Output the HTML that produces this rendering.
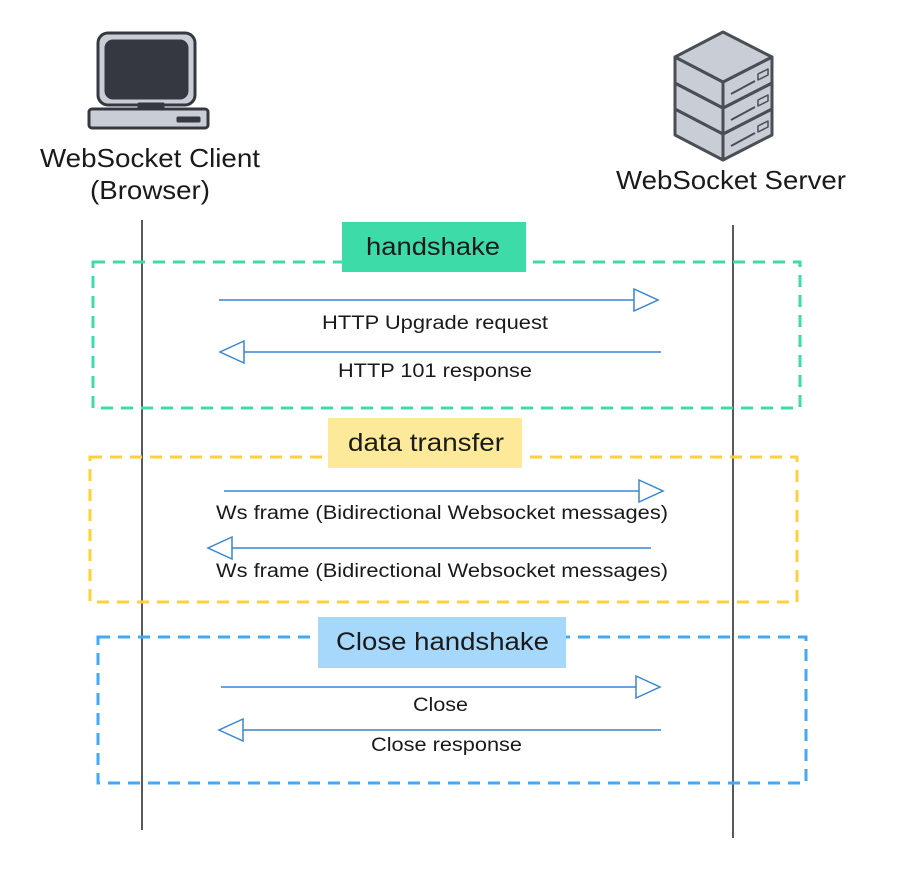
<!DOCTYPE html>
<html><head><meta charset="utf-8"><style>
html,body{margin:0;padding:0;background:#fff;}
svg{display:block;}
text{font-family:"Liberation Sans",Arial,sans-serif;fill:#1a1a1a;}
</style></head><body>
<svg width="902" height="877" viewBox="0 0 902 877" xmlns="http://www.w3.org/2000/svg">
<rect width="902" height="877" fill="#fff"/>
<!-- computer -->
<g stroke="#35393f" stroke-width="3" stroke-linejoin="round">
<rect x="98" y="33" width="97" height="72" rx="10" fill="#c9ced6"/>
<rect x="106" y="41" width="81" height="57" rx="7" fill="#35393f"/>
<rect x="139" y="104" width="24" height="7" fill="#35393f"/>
<rect x="89" y="109" width="119" height="19" rx="3" fill="#c9ced6"/>
<rect x="177" y="117" width="23" height="5" rx="1" fill="#35393f" stroke-width="1"/>
</g>
<!-- server -->
<g stroke="#4a4e55" stroke-width="3" stroke-linejoin="round" fill="#c9ced6">
<g transform="translate(0,52)">
<polygon points="675,57 723,82 723,108 675,83"/><polygon points="723,82 772,57 772,83 723,108"/>
<line x1="731" y1="94" x2="755" y2="81" stroke-width="2"/><polygon points="758,74 768,69 768,75 758,80" stroke-width="1.5"/>
</g>
<g transform="translate(0,26)">
<polygon points="675,57 723,82 723,108 675,83"/><polygon points="723,82 772,57 772,83 723,108"/>
<line x1="731" y1="94" x2="755" y2="81" stroke-width="2"/><polygon points="758,74 768,69 768,75 758,80" stroke-width="1.5"/>
<polygon points="675,57 723,32 772,57 723,82"/>
</g>
<polygon points="675,57 723,82 723,108 675,83"/><polygon points="723,82 772,57 772,83 723,108"/>
<line x1="731" y1="94" x2="755" y2="81" stroke-width="2"/><polygon points="758,74 768,69 768,75 758,80" stroke-width="1.5"/>
<polygon points="675,57 723,32 772,57 723,82"/>
</g>
<g font-size="26">
<text x="40" y="167" textLength="220" lengthAdjust="spacingAndGlyphs">WebSocket Client</text>
<text x="90" y="199" textLength="120" lengthAdjust="spacingAndGlyphs">(Browser)</text>
<text x="616" y="189" textLength="230" lengthAdjust="spacingAndGlyphs">WebSocket Server</text>
</g>
<!-- lifelines -->
<line x1="142" y1="220" x2="142" y2="830" stroke="#222" stroke-width="1.5"/>
<line x1="733" y1="225" x2="733" y2="838" stroke="#222" stroke-width="1.5"/>
<!-- boxes -->
<g fill="none" stroke-width="3" stroke-dasharray="12,8">
<rect x="93" y="262" width="707" height="146" stroke="#3ddba8"/>
<rect x="90" y="457" width="707" height="145" stroke="#fdd13d"/>
<rect x="98" y="637" width="708" height="146" stroke="#46a7f5"/>
</g>
<rect x="342" y="222" width="184" height="50" fill="#3ddba8"/>
<rect x="328" y="418" width="194" height="50" fill="#fce99a"/>
<rect x="318" y="617" width="248" height="51" fill="#a6d8fc"/>
<g font-size="25">
<text x="366" y="255" textLength="134" lengthAdjust="spacingAndGlyphs">handshake</text>
<text x="348" y="451" textLength="156" lengthAdjust="spacingAndGlyphs">data transfer</text>
<text x="336" y="650" textLength="213" lengthAdjust="spacingAndGlyphs">Close handshake</text>
</g>
<!-- arrows -->
<g stroke="#3a86cf" stroke-width="1.5" fill="#fff">
<line x1="219" y1="300" x2="634" y2="300"/><polygon points="634,289 658,300 634,311"/>
<line x1="661" y1="352" x2="244" y2="352"/><polygon points="244,341 220,352 244,363"/>
<line x1="224" y1="491" x2="639" y2="491"/><polygon points="639,480 663,491 639,502"/>
<line x1="651" y1="548" x2="232" y2="548"/><polygon points="232,537 208,548 232,559"/>
<line x1="221" y1="687" x2="636" y2="687"/><polygon points="636,676 660,687 636,698"/>
<line x1="661" y1="730" x2="243" y2="730"/><polygon points="243,719 219,730 243,741"/>
</g>
<g font-size="19">
<text x="322" y="329" textLength="226" lengthAdjust="spacingAndGlyphs">HTTP Upgrade request</text>
<text x="338" y="377" textLength="194" lengthAdjust="spacingAndGlyphs">HTTP 101 response</text>
<text x="216" y="519" textLength="452" lengthAdjust="spacingAndGlyphs">Ws frame (Bidirectional Websocket messages)</text>
<text x="216" y="577" textLength="452" lengthAdjust="spacingAndGlyphs">Ws frame (Bidirectional Websocket messages)</text>
<text x="413" y="711" textLength="55" lengthAdjust="spacingAndGlyphs">Close</text>
<text x="371" y="751" textLength="151" lengthAdjust="spacingAndGlyphs">Close response</text>
</g>
</svg>
</body></html>
